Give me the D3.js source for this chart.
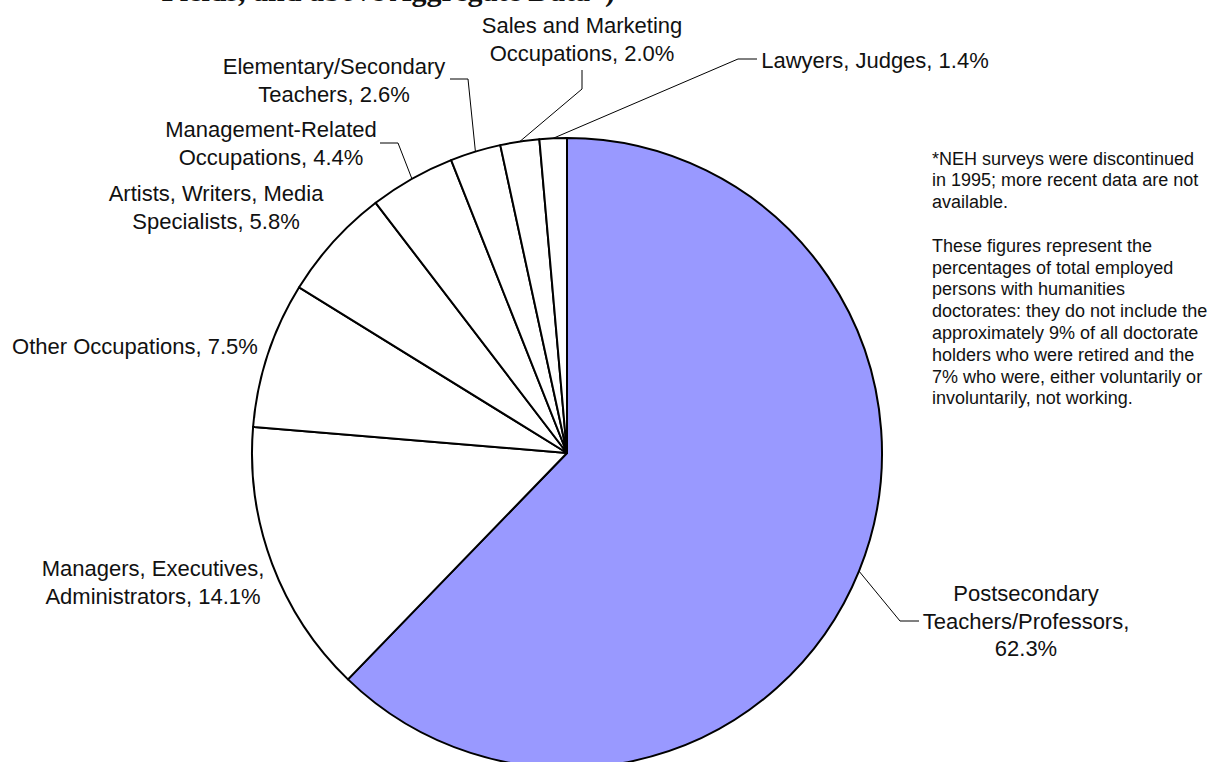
<!DOCTYPE html>
<html>
<head>
<meta charset="utf-8">
<script src="https://cdn.jsdelivr.net/npm/d3@7"></script>
<style>
  body { margin: 0; background: #fff; }
  svg { display: block; }
  .lbl { font-family: "Liberation Sans", Arial, sans-serif; font-size: 22px; fill: #111; }
  .note { font-family: "Liberation Sans", Arial, sans-serif; font-size: 18px; fill: #111; }
  .title { font-family: "Liberation Serif", "Times New Roman", serif; font-size: 30px; font-weight: bold; fill: #111; }
</style>
</head>
<body>
<div id="vis"></div>
<script>
// data
const categories = [
  "Postsecondary Teachers/Professors",
  "Managers, Executives, Administrators",
  "Other Occupations",
  "Artists, Writers, Media Specialists",
  "Management-Related Occupations",
  "Elementary/Secondary Teachers",
  "Sales and Marketing Occupations",
  "Lawyers, Judges"
];
const shares = [62.3, 14.1, 7.5, 5.8, 4.4, 2.6, 2.0, 1.4];
const labelLines = [
  ["Postsecondary", "Teachers/Professors,", "62.3%"],
  ["Managers, Executives,", "Administrators, 14.1%"],
  ["Other Occupations, 7.5%"],
  ["Artists, Writers, Media", "Specialists, 5.8%"],
  ["Management-Related", "Occupations, 4.4%"],
  ["Elementary/Secondary", "Teachers, 2.6%"],
  ["Sales and Marketing", "Occupations, 2.0%"],
  ["Lawyers, Judges, 1.4%"]
];
const noteLines = [
  "*NEH surveys were discontinued",
  "in 1995; more recent data are not",
  "available.",
  "",
  "These figures represent the",
  "percentages of total employed",
  "persons with humanities",
  "doctorates: they do not include the",
  "approximately 9% of all doctorate",
  "holders who were retired and the",
  "7% who were, either voluntarily or",
  "involuntarily, not working."
];

// layout
const W = 1208, H = 762;
const cx = 567, cy = 453, radius = 315;
const lineH = 27.5;

// label block: x center, y of first line center, leader elbow points (from arc outward)
const labelLayout = [
  { x: 1026, y: 593, leader: [[900, 621], [919, 621]] },
  { x: 153, y: 568 },
  { x: 135, y: 346 },
  { x: 216, y: 193 },
  { x: 271, y: 129, leader: [[398, 143], [380, 143]] },
  { x: 334, y: 66, leader: [[468, 79], [450, 79]] },
  { x: 582, y: 25, leader: [[582, 89], [582, 70]] },
  { x: 875, y: 60, leader: [[738, 59], [757, 59]] }
];

const svg = d3.select("#vis").append("svg")
  .attr("width", W)
  .attr("height", H);

// title, mostly above the top of the page (only its lower edge shows)
svg.append("text")
  .attr("class", "title")
  .attr("x", 615)
  .attr("y", 1)
  .attr("text-anchor", "end")
  .text("Fields, and above Aggregate Data*)");

const pie = d3.pie().sort(null).value(d => d);
const arcs = pie(shares);

const arc = d3.arc().innerRadius(0).outerRadius(radius);
const edgeArc = d3.arc().innerRadius(radius).outerRadius(radius);

const g = svg.append("g").attr("transform", `translate(${cx},${cy})`);

g.selectAll("path.slice")
  .data(arcs)
  .join("path")
  .attr("class", "slice")
  .attr("d", arc)
  .attr("fill", (d, i) => i === 0 ? "#9999ff" : "#ffffff")
  .attr("stroke", "#000")
  .attr("stroke-width", 2)
  .attr("stroke-linejoin", "round");

// leader lines
const line = d3.line();
svg.selectAll("path.leader")
  .data(arcs.filter((d, i) => labelLayout[i].leader))
  .join("path")
  .attr("class", "leader")
  .attr("fill", "none")
  .attr("stroke", "#000")
  .attr("stroke-width", 1)
  .attr("d", d => {
    const p = edgeArc.centroid(d);
    const pts = [[cx + p[0], cy + p[1]]].concat(labelLayout[d.index].leader);
    return line(pts);
  });

// labels
arcs.forEach((d, i) => {
  const lay = labelLayout[i];
  const t = svg.append("text")
    .attr("class", "lbl")
    .attr("text-anchor", "middle");
  labelLines[i].forEach((s, k) => {
    t.append("tspan")
      .attr("x", lay.x)
      .attr("y", lay.y + k * lineH + 8)
      .text(s);
  });
});

// note text
const note = svg.append("text").attr("class", "note");
noteLines.forEach((s, k) => {
  note.append("tspan")
    .attr("x", 932)
    .attr("y", 164.5 + k * 21.8)
    .text(s);
});
</script>
</body>
</html>
